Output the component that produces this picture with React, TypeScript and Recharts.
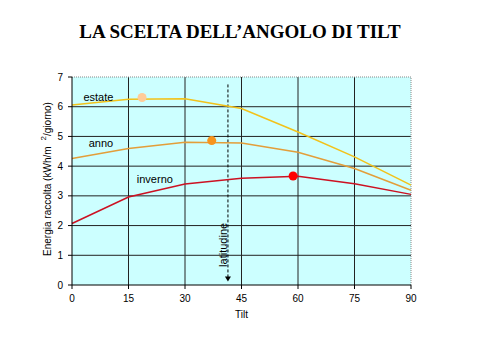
import React from 'react';
import { ComposedChart, Line, XAxis, YAxis, CartesianGrid, ReferenceLine, ReferenceDot } from 'recharts';

const tilts = [0, 15, 30, 45, 60, 75, 90];
const estate = [6.06, 6.25, 6.27, 5.94, 5.15, 4.31, 3.36];
const anno = [4.26, 4.59, 4.8, 4.78, 4.47, 3.92, 3.19];
const inverno = [2.07, 2.96, 3.4, 3.59, 3.66, 3.41, 3.05];
const xTicks = [0, 15, 30, 45, 60, 75, 90];
const yTicks = [0, 1, 2, 3, 4, 5, 6, 7];
const optimum = [
  { name: 'estate', x: 18.6, y: 6.31, color: '#FFCC99' },
  { name: 'anno', x: 37.1, y: 4.86, color: '#F7941D' },
  { name: 'inverno', x: 58.7, y: 3.67, color: '#FF0000' },
];
const seriesLabels = [
  { text: 'estate', x: 7, y: 6.32 },
  { text: 'anno', x: 7.7, y: 4.77 },
  { text: 'inverno', x: 22, y: 3.56 },
];
const latitude = 41.4;
const latitudeTop = 6.75;
const latitudeBottom = 0.12;

const data = tilts.map((t, i) => ({ tilt: t, estate: estate[i], anno: anno[i], inverno: inverno[i] }));

const font = 'Arial, "Liberation Sans", sans-serif';

const YLabel = () => {
  const cx = 47;
  const cy = 179;
  return (
    <text x={cx} y={cy} transform={`rotate(-90, ${cx}, ${cy})`} textAnchor="middle" dominantBaseline="central" fontFamily={font} fontSize={10} fill="#000">
      <tspan>Energia raccolta (kWh/m</tspan>
      <tspan dx={6} dy={-4} fontSize={8}>2</tspan>
      <tspan dy={4}>/giorno)</tspan>
    </text>
  );
};

const LatShape = (props: any) => {
  const { x1, y1, x2, y2 } = props;
  return (
    <g>
      <line x1={x1} y1={y1} x2={x2} y2={y2 - 4} stroke="#000" strokeWidth={1} strokeDasharray="3 2" />
      <polygon points={`${x2 - 3},${y2 - 5} ${x2 + 3},${y2 - 5} ${x2},${y2}`} fill="#000" />
    </g>
  );
};

export default function App() {
  return (
    <div style={{ position: 'absolute', left: 0, top: 0, width: 480, height: 360, background: '#fff' }}>
      <div style={{ position: 'absolute', left: 0, top: 20, width: 480, textAlign: 'center', lineHeight: '24px', fontFamily: '"Liberation Serif", "Times New Roman", serif', fontWeight: 'bold', fontSize: 19, color: '#000' }}>
        LA SCELTA DELL’ANGOLO DI TILT
      </div>
      <ComposedChart width={480} height={360} data={data} margin={{ top: 77, right: 69, bottom: 39, left: 42 }} style={{ position: 'absolute', left: 0, top: 0 }}>
        <CartesianGrid stroke="#222" fill="#CCFFFF" fillOpacity={1} horizontalValues={[1, 2, 3, 4, 5, 6]} verticalValues={[15, 30, 45, 60, 75]} />
        <XAxis dataKey="tilt" type="number" domain={[0, 90]} ticks={xTicks} tickSize={4} tickMargin={6} stroke="#000" tick={{ fill: '#000', fontSize: 10, fontFamily: font }} height={36} label={{ value: 'Tilt', position: 'insideBottom', offset: 3, fill: '#000', fontSize: 10, fontFamily: font }} />
        <YAxis type="number" domain={[0, 7]} ticks={yTicks} tickSize={4} tickMargin={5} stroke="#000" width={30} tick={{ fill: '#000', fontSize: 10, fontFamily: font }} label={<YLabel />} />
        <ReferenceLine x={90} stroke="#888" strokeDasharray="1 1" />
        <ReferenceLine y={7} stroke="#888" strokeDasharray="1 1" />
        <ReferenceLine segment={[{ x: latitude, y: latitudeTop }, { x: latitude, y: latitudeBottom }]} shape={<LatShape />} />
        <Line dataKey="estate" stroke="#F2C21A" strokeWidth={1.5} dot={false} isAnimationActive={false} type="linear" />
        <Line dataKey="anno" stroke="#E39E3A" strokeWidth={1.5} dot={false} isAnimationActive={false} type="linear" />
        <Line dataKey="inverno" stroke="#CC1122" strokeWidth={1.5} dot={false} isAnimationActive={false} type="linear" />
        {optimum.map((o) => (
          <ReferenceDot key={o.name} x={o.x} y={o.y} r={4.5} fill={o.color} stroke="none" />
        ))}
        {seriesLabels.map((l) => (
          <ReferenceDot key={l.text} x={l.x} y={l.y} r={0} fill="none" stroke="none" label={{ value: l.text, position: 'center', fill: '#000', fontSize: 11, fontFamily: font }} />
        ))}
        <ReferenceDot x={latitude - 1.4} y={1.35} r={0} fill="none" stroke="none" label={(p: any) => {
          const { viewBox } = p;
          const cx = viewBox.x + viewBox.width / 2;
          const cy = viewBox.y + viewBox.height / 2;
          return (
            <text x={cx} y={cy} transform={`rotate(-90, ${cx}, ${cy})`} textAnchor="middle" dominantBaseline="central" fontFamily={font} fontSize={11} fill="#000">latitudine</text>
          );
        }} />
      </ComposedChart>
    </div>
  );
}
